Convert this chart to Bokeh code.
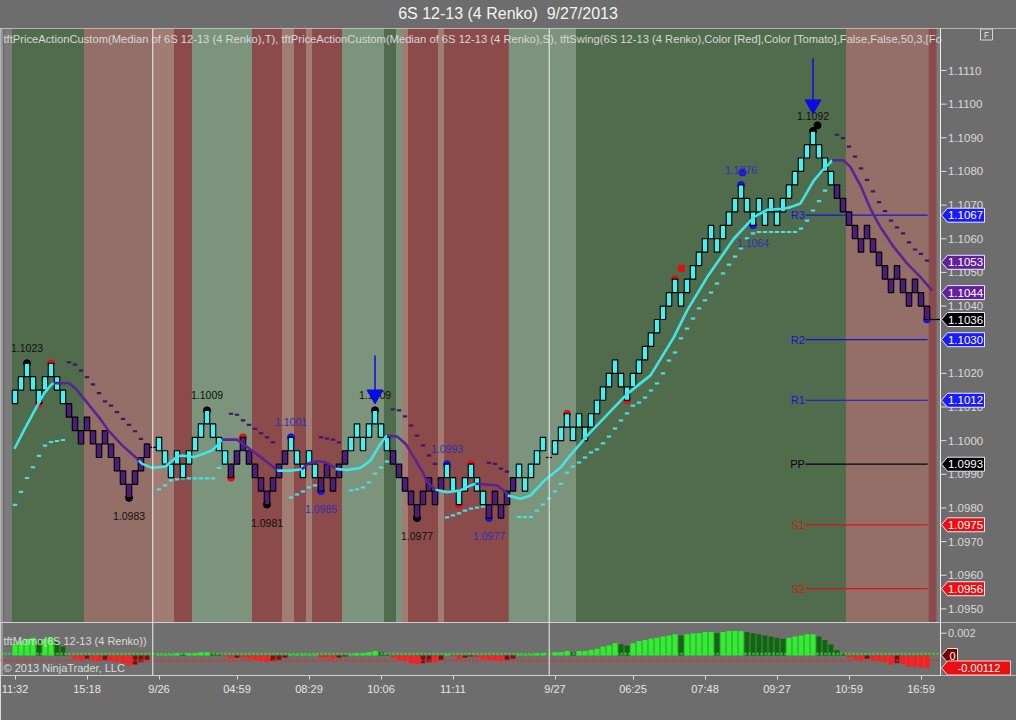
import numpy as np
from bokeh.plotting import figure
from bokeh.layouts import column
from bokeh.models import Div, Range1d, FixedTicker, Span
from bokeh.embed import file_html
from bokeh.resources import INLINE
from bokeh.core.properties import value

FONT = "Liberation Sans"
TITLE = "6S 12-13 (4 Renko)  9/27/2013"
INDICATOR_TEXT = ("tftPriceActionCustom(Median of 6S 12-13 (4 Renko),T), "
                  "tftPriceActionCustom(Median of 6S 12-13 (4 Renko),S), "
                  "tftSwing(6S 12-13 (4 Renko),Color [Red],Color [Tomato],False,False,50,3,[Fo")
MOMO_TEXT = "tftMomo(6S 12-13 (4 Renko))"
COPYRIGHT = "\u00a9 2013 NinjaTrader, LLC"

# ---------------- data ----------------
BRICK = 0.0004
brick_low = [
    1.1011, 1.1015, 1.1019, 1.1015, 1.1011, 1.1015, 1.1019, 1.1015, 1.1011,
    1.1007, 1.1003, 1.0999, 1.1003, 1.0999, 1.0995, 1.0999, 1.0995, 1.0991, 1.0987, 1.0983, 1.0987, 1.0991, 1.0995,
    1.0998,
    1.0997, 1.0993, 1.0989, 1.0993, 1.0989, 1.0993, 1.0997, 1.1001, 1.1005, 1.1001, 1.0997, 1.0993,
    1.0989, 1.0993, 1.0997, 1.0993, 1.0989, 1.0985, 1.0981, 1.0985, 1.0989, 1.0993,
    1.0997, 1.0993, 1.0989, 1.0993, 1.0989,
    1.0985, 1.0989, 1.0985, 1.0989, 1.0993,
    1.0997, 1.1001, 1.0997, 1.1001, 1.1005, 1.1001, 1.0997,
    1.0993, 1.0989, 1.0985, 1.0981, 1.0977, 1.0981, 1.0985, 1.0981, 1.0985,
    1.0989, 1.0985, 1.0981, 1.0985, 1.0989, 1.0985, 1.0981,
    1.0977, 1.0981, 1.0977, 1.0981, 1.0985,
    1.0989, 1.0985, 1.0989, 1.0993, 1.0997,
    1.0995,
    1.0996, 1.1000, 1.1004, 1.1000, 1.1004, 1.1000, 1.1004, 1.1008, 1.1012, 1.1016,
    1.1020, 1.1016, 1.1012, 1.1016, 1.1020, 1.1024, 1.1028, 1.1032, 1.1036, 1.1040,
    1.1044, 1.1040, 1.1044, 1.1048, 1.1052, 1.1056, 1.1060, 1.1056, 1.1060, 1.1064,
    1.1068, 1.1072, 1.1068, 1.1064, 1.1068, 1.1064, 1.1068, 1.1064, 1.1068, 1.1072,
    1.1076, 1.1080, 1.1084, 1.1088, 1.1084, 1.1080, 1.1076,
    1.1072, 1.1068, 1.1064, 1.1060, 1.1056, 1.1060, 1.1056, 1.1052, 1.1048, 1.1044,
    1.1048, 1.1044, 1.1040, 1.1044, 1.1040, 1.1036,
]
# U = up-trend brick, D = down-trend brick, F = session-open flat bar
trend = ("UUUUUUUUU" "DDDDDDDDDDDDDD" "F"
         "UUUUUUUUUUUU" "DDDDDDDDDD" "UUUUU" "DDDDD" "UUUUUUU" "DDDDDDDDD" "UUUUUUU" "DDDDD" "UUUUU" "F"
         "UUUUUUUUUUUUUUUUUUUUUUUUUUUUUUUUUUUUUUUUUUUUUUU" "DDDDDDDDDDDDDDDD")

session_breaks = [22.96, 89.03]

up_stop_idx = (list(range(0, 9)) + list(range(24, 35)) + list(range(46, 51)) + list(range(56, 63))
               + list(range(72, 79)) + list(range(84, 136)))
up_stop_val = [
    1.09809, 1.09848, 1.09889, 1.09921, 1.09955, 1.09985, 1.09996, 1.09999, 1.10002,
    1.09855, 1.09867, 1.09882, 1.09885, 1.09888, 1.09888, 1.09888, 1.09888, 1.09888, 1.09888, 1.09919,
    1.09831, 1.09840, 1.09849, 1.09861, 1.09867,
    1.09852, 1.09855, 1.09861, 1.09876, 1.09902, 1.09920, 1.09938,
    1.09772, 1.09778, 1.09784, 1.09792, 1.09798, 1.09801, 1.09804,
    1.09773, 1.09773, 1.09773, 1.09792, 1.09810,
    1.09828, 1.09849, 1.09872, 1.09905, 1.09923, 1.09935, 1.09950, 1.09965, 1.09974, 1.09992,
    1.10012, 1.10036, 1.10060, 1.10081, 1.10104, 1.10113, 1.10128, 1.10149, 1.10170, 1.10200,
    1.10238, 1.10262, 1.10304, 1.10333, 1.10363, 1.10393, 1.10417, 1.10440, 1.10467, 1.10497,
    1.10523, 1.10547, 1.10571, 1.10601, 1.10616, 1.10620, 1.10620, 1.10620, 1.10620, 1.10620,
    1.10620, 1.10620, 1.10630, 1.10654, 1.10684, 1.10712, 1.10743,
]
dn_stop_idx = (list(range(9, 23)) + list(range(36, 44)) + list(range(51, 55)) + list(range(63, 71))
               + list(range(79, 83)) + list(range(137, 153)))
dn_stop_val = [
    1.10233, 1.10226, 1.10208, 1.10189, 1.10167, 1.10141, 1.10117, 1.10104, 1.10085, 1.10065,
    1.10047, 1.10028, 1.10005, 1.09989,
    1.10080, 1.10077, 1.10060, 1.10047, 1.10035, 1.10022, 1.10010, 1.09995,
    1.10010, 1.10006, 1.10003, 1.09995,
    1.10093, 1.10090, 1.10072, 1.10045, 1.10015, 1.09986, 1.09956, 1.09931,
    1.09934, 1.09931, 1.09917, 1.09908,
    1.10909, 1.10899, 1.10874, 1.10844, 1.10809, 1.10775, 1.10741, 1.10709, 1.10682, 1.10654,
    1.10634, 1.10616, 1.10589, 1.10568, 1.10555, 1.10535,
]

ma_segments = [
    ("U", [(-0.08, 1.09976), (1.47, 1.10030), (3.13, 1.10085), (4.8, 1.10139), (5.92, 1.10164), (6.47, 1.10171)]),
    ("D", [(6.47, 1.10171), (8.97, 1.10171), (10.08, 1.10155), (11.75, 1.10119), (13.97, 1.10070),
           (15.58, 1.10030), (17.87, 1.09986), (20.37, 1.09946), (20.63, 1.09940)]),
    ("U", [(20.63, 1.09940), (21.2, 1.09931), (22.87, 1.09919), (25.08, 1.09923), (27.03, 1.09953),
           (27.87, 1.09956), (29.8, 1.09951), (31.47, 1.09961), (32.87, 1.09971), (33.97, 1.09991), (34.53, 1.10003)]),
    ("D", [(34.53, 1.10003), (37.03, 1.10003), (38.7, 1.09981), (40.92, 1.09951), (43.13, 1.09921), (43.7, 1.09911)]),
    ("U", [(43.7, 1.09911), (45.92, 1.09911), (47.8, 1.09915)]),
    ("D", [(47.8, 1.09915), (48.97, 1.09933), (50.37, 1.09939), (51.75, 1.09936), (53.13, 1.09921), (53.42, 1.09916)]),
    ("U", [(53.42, 1.09916), (55.37, 1.09913), (57.58, 1.09919), (59.25, 1.09941), (60.92, 1.09991),
           (61.75, 1.10010), (62.03, 1.10015)]),
    ("D", [(62.03, 1.10015), (63.7, 1.10012), (65.08, 1.09991), (66.47, 1.09951), (68.13, 1.09901),
           (68.7, 1.09875), (69.8, 1.09860), (70.08, 1.09854)]),
    ("U", [(70.08, 1.09854), (72.03, 1.09847), (74.25, 1.09852), (75.92, 1.09867), (76.75, 1.09872)]),
    ("D", [(76.75, 1.09872), (80.37, 1.09867), (81.75, 1.09847), (82.13, 1.09837)]),
    ("U", [(82.13, 1.09837), (84.25, 1.09827), (85.92, 1.09837), (88.13, 1.09880), (90.92, 1.09920),
           (92.03, 1.09945), (95.37, 1.10015), (102.03, 1.10139), (105.92, 1.10194), (109.8, 1.10307),
           (112.03, 1.10387), (115.37, 1.10486), (119.8, 1.10600), (123.13, 1.10664), (125.37, 1.10686),
           (128.13, 1.10689), (129.25, 1.10694), (130.92, 1.10705), (133.13, 1.10773), (134.8, 1.10808),
           (135.92, 1.10827), (136.2, 1.10833)]),
    ("D", [(136.2, 1.10833), (138.13, 1.10833), (139.25, 1.10813), (140.92, 1.10758), (142.58, 1.10689),
           (144.25, 1.10634), (146.47, 1.10575), (148.7, 1.10526), (150.92, 1.10486), (152.87, 1.10446)]),
]

# swing points: (bar index, "top"/"bot", label)
black_swings = [(2, "top", "1.1023"), (19, "bot", "1.0983"), (32, "top", "1.1009"), (42, "bot", "1.0981"),
                (60, "top", "1.1009"), (67, "bot", "1.0977"), (133, "top", "1.1092")]
blue_swings = [(46, "top", "1.1001"), (51, "bot", "1.0985"), (72, "top", "1.0993"), (79, "bot", "1.0977"),
               (121, "top", "1.1076"), (123, "bot", "1.1064")]
red_dots = [(4, "bot"), (6, "top"), (36, "bot"), (38, "top"), (74, "bot"), (76, "top"),
            (92, "top"), (102, "bot"), (110, "top")]
extra_black_dot = (133.75, 1.10937)
extra_blue_dot = (121.25, 1.10797)
extra_red_square = (111.08, 1.10512)

arrow_idx = [60, 133]
arrow_tail = [1.10253, 1.11136]
arrow_tip = [1.10116, 1.10978]

pivot_names = ["R3", "R2", "R1", "PP", "S1", "S2"]
pivot_vals = [1.1067, 1.1030, 1.1012, 1.0993, 1.0975, 1.0956]
pivot_kind = ["blue", "blue", "blue", "black", "red", "red"]

tag_vals = [1.1067, 1.1053, 1.1044, 1.1036, 1.1030, 1.1012, 1.0993, 1.0975, 1.0956]
tag_kind = ["blue", "purple", "purple", "black", "blue", "blue", "black", "red", "red"]
last_close = 1.1036

price_ticks = [1.095, 1.096, 1.097, 1.098, 1.099, 1.100, 1.101, 1.102, 1.103, 1.104, 1.105, 1.106,
               1.107, 1.108, 1.109, 1.110, 1.111]

momentum = [
    0.0010, 0.0013, 0.0015, 0.0016, 0.0014, 0.0015, 0.0016, 0.0012, 0.0008,
    -0.0001, -0.0003, -0.0004, -0.0003, -0.0004, -0.0005, -0.0004, -0.0005, -0.0006, -0.0007, -0.0009,
    -0.0008, -0.0006, -0.0004,
    0.0,
    0.0001, 0.0001, 0.0001, 0.0002, 0.0001, 0.0002, 0.0002, 0.0003, 0.0003, 0.0002, 0.0001, -0.0001,
    -0.0003, -0.0002, -0.0002, -0.0003, -0.0004, -0.0005, -0.0006, -0.0005, -0.0004, -0.0002,
    0.0001, 0.0001, 0.0001, 0.0001, 0.0001,
    -0.0002, -0.0002, -0.0003, -0.0002, -0.0001,
    0.0001, 0.0002, 0.0002, 0.0003, 0.0004, 0.0003, 0.0001,
    -0.0002, -0.0004, -0.0005, -0.0007, -0.0008, -0.0007, -0.0006, -0.0006, -0.0004,
    0.0001, -0.0001, -0.0003, -0.0002, -0.0001, -0.0002, -0.0003,
    -0.0004, -0.0004, -0.0005, -0.0004, -0.0003,
    0.0001, 0.0001, 0.0001, 0.0002, 0.0002,
    0.0,
    0.0003, 0.0003, 0.0004, 0.0003, 0.0004, 0.0004, 0.0005, 0.0006, 0.0008, 0.0009,
    0.0011, 0.0010, 0.0009, 0.0011, 0.0013, 0.0014, 0.0015, 0.0016, 0.0017, 0.0018,
    0.0019, 0.0018, 0.0019, 0.0020, 0.0020, 0.0021, 0.0021, 0.0020, 0.0021, 0.0022,
    0.0022, 0.0022, 0.0021, 0.0020, 0.0019, 0.0018, 0.0017, 0.0016, 0.0015, 0.0016,
    0.0017, 0.0018, 0.0019, 0.0019, 0.0017, 0.0014, 0.0010, 0.0005, 0.0002, -0.0002,
    -0.0003, -0.0004, -0.0003, -0.0004, -0.0005, -0.0006, -0.0008, -0.0007, -0.0008, -0.0010,
    -0.0010, -0.0011, -0.00112,
]
momo_upper = 0.00015
momo_lower = -0.00045
momo_last = -0.00112
momo_ticks = [0.002]

xtick_idx = [0, 12, 24, 37, 49, 61, 73, 90, 103, 115, 127, 139, 151]
xtick_lbl = ["11:32", "15:18", "9/26", "04:59", "08:29", "10:06", "11:11", "9/27", "06:25", "07:48",
             "09:27", "10:59", "16:59"]

# ---------------- layout / styles ----------------
W = 1016
BAR0_PX, BAR_PX = 14.5, 6.0          # pixel centre of bar 0 and bar pitch


def px(xp):
    """pixel column -> bar-index coordinate (for decorations in the axis strip)"""
    return (xp - BAR0_PX) / BAR_PX


X0, X1 = px(0), px(W)
AXIS_X = px(940)
BG = "#6d6d6d"
BAND_COL = {"bg": BG, "gray": "#7b7b7b", "dkgreen": "#506c4c", "salmon": "#946f67", "ltsalmon": "#a07c73",
            "dkred": "#8a4b4a", "ltgreen": "#7c947b"}
band_edges = [X0, -1.75, -0.5, 11.5, 22.95, 26.5, 29.5, 39.5, 44.5, 46.5, 48.5, 49.5, 54.5, 61.5, 63.5,
              64.5, 65.5, 70.5, 71.5, 82.3, 93.5, 138.5, 152.3, 153.6, AXIS_X, X1]
band_kind = ["bg", "gray", "dkgreen", "salmon", "ltsalmon", "dkred", "ltgreen", "dkred", "ltsalmon", "dkred",
             "ltsalmon", "dkred", "ltgreen", "dkgreen", "ltgreen", "ltsalmon", "dkred", "ltsalmon", "dkred",
             "ltgreen", "dkgreen", "salmon", "dkred", "gray", "bg"]

CYAN = "#38f6f6"
PURPLE = "#4f1a84"
LINE_COL = {"U": "#3fe6e6", "D": "#5a2496"}
PIV_COL = {"blue": "#1414d8", "black": "#050505", "red": "#d81414"}
TAG_COL = {"blue": "#1a1aff", "purple": "#62209a", "black": "#000000", "red": "#e81010"}
PX_PRICE = 1.0 / 33650.0   # price per pixel in main panel
Y0, Y1 = 1.1110 - 552 * PX_PRICE, 1.1110 + 42 * PX_PRICE

n = len(brick_low)
idx = np.arange(n)
lows = np.array(brick_low)
tops = lows + BRICK

# ---------------- title bar ----------------
title = Div(text=TITLE.replace("  ", "&nbsp;&nbsp;"), width=W, height=28, margin=(0, 0, 0, 0),
            styles={"background-color": BG, "color": "#f4f4f4", "font-size": "16px",
                    "font-family": FONT + ", Arial, sans-serif", "text-align": "center",
                    "line-height": "27px", "width": f"{W}px", "height": "28px", "overflow": "hidden"})

# ---------------- main panel ----------------
p = figure(width=W, height=594, x_range=Range1d(X0, X1), y_range=Range1d(Y0, Y1),
           output_backend="svg", toolbar_location=None, x_axis_location=None, y_axis_location=None,
           min_border_left=0, min_border_right=0, min_border_top=0, min_border_bottom=0,
           background_fill_color=BG, border_fill_color=BG, outline_line_color="#cfcfcf")
p.grid.visible = False

p.quad(left=band_edges[:-1], right=band_edges[1:], bottom=Y0, top=Y1,
       fill_color=[BAND_COL[k] for k in band_kind], line_color=None)
p.add_layout(Span(location=px(1.5), dimension="height", line_color="#bdbdbd", line_width=1))
for s in session_breaks:
    p.add_layout(Span(location=s, dimension="height", line_color="#f0f0f0", line_width=1))

# price scale on the right strip
p.add_layout(Span(location=AXIS_X, dimension="height", line_color="#eeeeee", line_width=1))
p.segment(x0=AXIS_X, x1=px(946), y0=price_ticks, y1=price_ticks, line_color="#dddddd", line_width=1)
p.text(x=px(947.5), y=price_ticks, text=[f"{t:.4f}" for t in price_ticks], text_align="left",
       text_baseline="middle", text_font=value(FONT), text_font_size=value("11.5px"), text_color="#dadada")

# pivot lines
PIV_X0, PIV_X1 = 131.75, 152.1
p.segment(x0=PIV_X0, x1=PIV_X1, y0=pivot_vals, y1=pivot_vals,
          line_color=[PIV_COL[k] for k in pivot_kind], line_width=1.2)
p.text(x=PIV_X0 - 0.1, y=pivot_vals, text=pivot_names, text_align="right", text_baseline="middle",
       text_font=value(FONT), text_font_size=value("11px"), text_color=[PIV_COL[k] for k in pivot_kind])

# trailing-stop dashes
p.rect(x=up_stop_idx, y=up_stop_val, width=0.72, height=2.2, height_units="screen",
       fill_color="#46e2e2", line_color=None)
p.rect(x=dn_stop_idx, y=dn_stop_val, width=0.72, height=2.2, height_units="screen",
       fill_color="#3e1766", line_color=None)


def dot_xy(lst):
    xs = [i for i, *_ in lst]
    ys = [tops[i] if pos == "top" else lows[i] for i, pos, *_ in lst]
    return xs, ys


bx, by = dot_xy(black_swings)
p.scatter(bx + [extra_black_dot[0]], by + [extra_black_dot[1]], size=7, color="#000000")
ux, uy = dot_xy(blue_swings + [(152, "bot", "")])
p.scatter(ux + [extra_blue_dot[0]], uy + [extra_blue_dot[1]], size=7, color="#1515e0")
rx, ry = dot_xy(red_dots)
p.scatter(rx, ry, size=7, color="#e01010")
p.scatter([extra_red_square[0]], [extra_red_square[1]], size=6, marker="square", color="#e01010")

# bricks
is_brick = np.array([t != "F" for t in trend])
bcol = [CYAN if t == "U" else PURPLE for t in trend]
p.quad(left=(idx - 0.45)[is_brick], right=(idx + 0.45)[is_brick], bottom=lows[is_brick], top=tops[is_brick],
       fill_color=[c for c, b in zip(bcol, is_brick) if b], line_color="#000000", line_width=1.2)
flat = ~is_brick
p.segment(x0=(idx - 0.5)[flat], x1=(idx + 0.5)[flat], y0=lows[flat], y1=lows[flat], line_color="#000000",
          line_width=1.2)
p.segment(x0=[n - 1 + 0.45], x1=[AXIS_X], y0=[last_close], y1=[last_close], line_color="#000000", line_width=1.2)

# median line
for kind, pts in ma_segments:
    p.line([a for a, _ in pts], [b for _, b in pts], line_color=LINE_COL[kind], line_width=2.6)


def label_glyph(lst, color):
    for pos, off, arr in (("top", -15, tops), ("bot", 18, lows)):
        sel = [(i, t) for i, ps, t in lst if ps == pos]
        p.text(x=[i for i, _ in sel], y=[arr[i] for i, _ in sel], text=[t for _, t in sel], y_offset=off,
               text_align="center", text_baseline="middle", text_font=value(FONT),
               text_font_size=value("10.5px"), text_color=color)


label_glyph(black_swings, "#101010")
label_glyph(blue_swings, "#2f2fb8")

# arrows
p.segment(x0=arrow_idx, x1=arrow_idx, y0=arrow_tail, y1=arrow_tip, line_color="#0a0ae6", line_width=1.5)
p.scatter(arrow_idx, [t + 7 * PX_PRICE for t in arrow_tip], marker="inverted_triangle", size=16,
          color="#0a0ae6")

# indicator caption
p.text(x=[px(3)], y=[Y1 - 10 * PX_PRICE], text=[INDICATOR_TEXT], text_align="left",
       text_baseline="middle", text_font=value(FONT), text_font_size=value("11.2px"), text_color="#d8d8d8")

# price tags
H = 7 * PX_PRICE
tag_xs = [[px(941), px(947), px(984), px(984), px(947)] for _ in tag_vals]
tag_ys = [[v, v + H, v + H, v - H, v - H] for v in tag_vals]
p.patches(tag_xs, tag_ys, fill_color=[TAG_COL[k] for k in tag_kind], line_color="#e8e8ff", line_width=1)
p.text(x=px(965), y=tag_vals, text=[f"{v:.4f}" for v in tag_vals], text_align="center", text_baseline="middle",
       text_font=value(FONT), text_font_size=value("11.5px"), text_color="#ffffff")

# "F" button
p.rect(x=[px(986)], y=[Y1 - 6 * PX_PRICE], width=12, height=11, width_units="screen", height_units="screen",
       fill_color=None, line_color="#d6d6d6", line_width=1)
p.text(x=[px(986)], y=[Y1 - 6 * PX_PRICE], text=["F"], text_align="center", text_baseline="middle",
       text_font=value(FONT), text_font_size=value("8.5px"), text_color="#e6e6e6")

# ---------------- momentum panel ----------------
MPX = 1.0 / 11150.0
MY0, MY1 = -20 * MPX, 33 * MPX
q = figure(width=W, height=98, x_range=p.x_range, y_range=Range1d(MY0, MY1),
           output_backend="svg", toolbar_location=None, y_axis_location=None,
           min_border_left=0, min_border_right=0, min_border_top=0, min_border_bottom=45,
           background_fill_color="#6f6f6f", border_fill_color=BG, outline_line_color="#d0d0d0")
q.grid.visible = False
qx = q.xaxis[0]
qx.ticker = FixedTicker(ticks=xtick_idx)
qx.major_label_overrides = {i: l for i, l in zip(xtick_idx, xtick_lbl)}
qx.major_label_text_color = "#e6e6e6"
qx.major_label_text_font = FONT
qx.major_label_text_font_size = "11px"
qx.axis_line_color = None
qx.major_tick_line_color = "#dddddd"
qx.major_tick_out = 4
qx.major_tick_in = 0
qx.minor_tick_line_color = None
qx.major_label_standoff = 3

q.quad(left=[AXIS_X], right=[X1], bottom=MY0, top=MY1, fill_color=BG, line_color=None)

mom = np.array(momentum)
prev = np.concatenate([[0.0], mom[:-1]])
mcol = []
for m, pv in zip(mom, prev):
    if m >= 0:
        mcol.append("#27f527" if m >= pv else "#0b6a0b")
    else:
        mcol.append("#ff1c1c" if m <= pv else "#8a0b0b")
q.vbar(x=idx, top=mom, bottom=0, width=0.82, fill_color=mcol, line_color=None)
q.segment(x0=px(0), x1=AXIS_X, y0=momo_upper, y1=momo_upper, line_color="#2ae62a", line_dash="2 2",
          line_width=2)
q.segment(x0=px(0), x1=AXIS_X, y0=momo_lower, y1=momo_lower, line_color="#e62a2a", line_dash="2 2",
          line_width=2)
for s in session_breaks:
    q.add_layout(Span(location=s, dimension="height", line_color="#f0f0f0", line_width=1))
q.add_layout(Span(location=AXIS_X, dimension="height", line_color="#eeeeee", line_width=1))
q.add_layout(Span(location=px(1.5), dimension="height", line_color="#bdbdbd", line_width=1))

q.segment(x0=AXIS_X, x1=px(946), y0=momo_ticks, y1=momo_ticks, line_color="#dddddd", line_width=1)
q.text(x=px(947.5), y=momo_ticks, text=[f"{t:.3f}" for t in momo_ticks], text_align="left",
       text_baseline="middle", text_font=value(FONT), text_font_size=value("11px"), text_color="#dadada")

q.text(x=[px(3)], y=[15 * MPX], text=[MOMO_TEXT], text_align="left", text_baseline="middle",
       text_font=value(FONT), text_font_size=value("11px"), text_color="#dcdcdc")
q.text(x=[px(3)], y=[-12 * MPX], text=[COPYRIGHT], text_align="left", text_baseline="middle",
       text_font=value(FONT), text_font_size=value("11px"), text_color="#dcdcdc")

HM = 7 * MPX
q.patches([[px(941), px(947), px(957), px(957), px(947)],
           [px(941), px(947), px(1010), px(1010), px(947)]],
          [[0, HM, HM, -HM, -HM],
           [momo_last, momo_last + HM, momo_last + HM, momo_last - HM, momo_last - HM]],
          fill_color=["#7a0000", "#e81010"], line_color=["#e6e6e6", "#ffd0d0"], line_width=1)
q.text(x=[px(952), px(978.5)], y=[0, momo_last], text=["0", f"{momo_last:.5f}"], text_align="center",
       text_baseline="middle", text_font=value(FONT), text_font_size=value("11px"), text_color="#ffffff")

layout = column(title, p, q, spacing=0)
open("out.html", "w").write(file_html(layout, INLINE))
